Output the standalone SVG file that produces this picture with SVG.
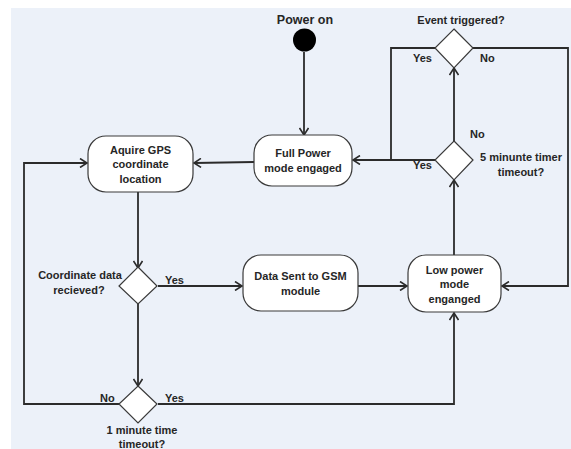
<svg xmlns="http://www.w3.org/2000/svg" width="571" height="449" viewBox="0 0 571 449">
  <defs>
    <marker id="arrow" markerWidth="10" markerHeight="10" refX="8" refY="5" orient="auto" markerUnits="userSpaceOnUse">
      <path d="M1,0.5 L8,5 L1,9.5" fill="none" stroke="#2b2b2b" stroke-width="1.6"/>
    </marker>
    <style>
      .bg { fill: #ecf1f9; }
      .box { fill: #ffffff; stroke: #3a3a3a; stroke-width: 1.2; }
      .dia { fill: #ffffff; stroke: #3a3a3a; stroke-width: 1.2; }
      .edge { fill: none; stroke: #2b2b2b; stroke-width: 1.8; }
      .arr { marker-end: url(#arrow); }
      text { font-family: "Liberation Sans", Arial, sans-serif; font-weight: bold; font-size: 11px; fill: #262626; }
      .c { text-anchor: middle; }
    </style>
  </defs>

  <rect class="bg" x="11" y="8" width="560" height="441"/>

  <!-- connectors -->
  <g id="connectors">
    <line class="edge arr" x1="304" y1="52" x2="304" y2="135"/>
    <line class="edge arr" x1="254" y1="162" x2="194" y2="163"/>
    <line class="edge arr" x1="435" y1="160" x2="353" y2="160"/>
    <polyline class="edge" points="435,48 391,48 391,160"/>
    <polyline class="edge arr" points="473,48 568,48 568,286 502,286"/>
    <line class="edge arr" x1="454" y1="141" x2="454" y2="68"/>
    <line class="edge arr" x1="454" y1="255" x2="454" y2="180"/>
    <line class="edge arr" x1="138" y1="192" x2="138" y2="268"/>
    <line class="edge arr" x1="158" y1="286" x2="242" y2="286"/>
    <line class="edge arr" x1="358" y1="286" x2="407" y2="286"/>
    <line class="edge arr" x1="138" y1="304" x2="138" y2="386"/>
    <polyline class="edge arr" points="158,404 454,404 454,313"/>
    <polyline class="edge arr" points="119,404 24,404 24,163 87,163"/>
  </g>

  <!-- start -->
  <g id="power-on">
    <text class="c" x="305" y="24" style="font-size:12.5px">Power on</text>
    <circle cx="304.5" cy="40" r="11.5" fill="#000000"/>
  </g>

  <g id="full-power">
    <rect class="box" x="254" y="135" width="98" height="51" rx="18"/>
    <text class="c" x="303" y="157">Full Power</text>
    <text class="c" x="303" y="172">mode engaged</text>
  </g>

  <g id="acquire-gps">
    <rect class="box" x="88" y="136" width="105" height="56" rx="18"/>
    <text class="c" x="140.5" y="154">Aquire GPS</text>
    <text class="c" x="140.5" y="168">coordinate</text>
    <text class="c" x="140.5" y="183">location</text>
  </g>

  <g id="coordinate-check">
    <polygon class="dia" points="138,267 157,286 138,304 119,286"/>
    <text class="c" x="80" y="279">Coordinate data</text>
    <text class="c" x="79" y="294">recieved?</text>
    <text x="165" y="284">Yes</text>
  </g>

  <g id="data-sent">
    <rect class="box" x="243" y="255" width="115" height="56" rx="18"/>
    <text class="c" x="300.5" y="280">Data Sent to GSM</text>
    <text class="c" x="300.5" y="295">module</text>
  </g>

  <g id="low-power">
    <rect class="box" x="408" y="255" width="93" height="57" rx="18"/>
    <text class="c" x="454.5" y="274">Low power</text>
    <text class="c" x="454.5" y="288">mode</text>
    <text class="c" x="454.5" y="303">enganged</text>
  </g>

  <g id="one-minute-timeout">
    <polygon class="dia" points="138,386 157,404 138,423 119,404"/>
    <text x="100" y="402">No</text>
    <text x="165" y="402">Yes</text>
    <text class="c" x="142" y="434">1 minute time</text>
    <text class="c" x="142" y="448">timeout?</text>
  </g>

  <g id="five-minute-timeout">
    <polygon class="dia" points="454,141 473,160 454,180 435,160"/>
    <text x="470" y="138">No</text>
    <text x="413" y="169">Yes</text>
    <text class="c" x="521" y="161">5 minunte timer</text>
    <text class="c" x="521" y="176">timeout?</text>
  </g>

  <g id="event-triggered">
    <polygon class="dia" points="454,29 473,48 454,68 435,48"/>
    <text class="c" x="461" y="24">Event triggered?</text>
    <text x="413" y="62">Yes</text>
    <text x="480" y="62">No</text>
  </g>
</svg>
